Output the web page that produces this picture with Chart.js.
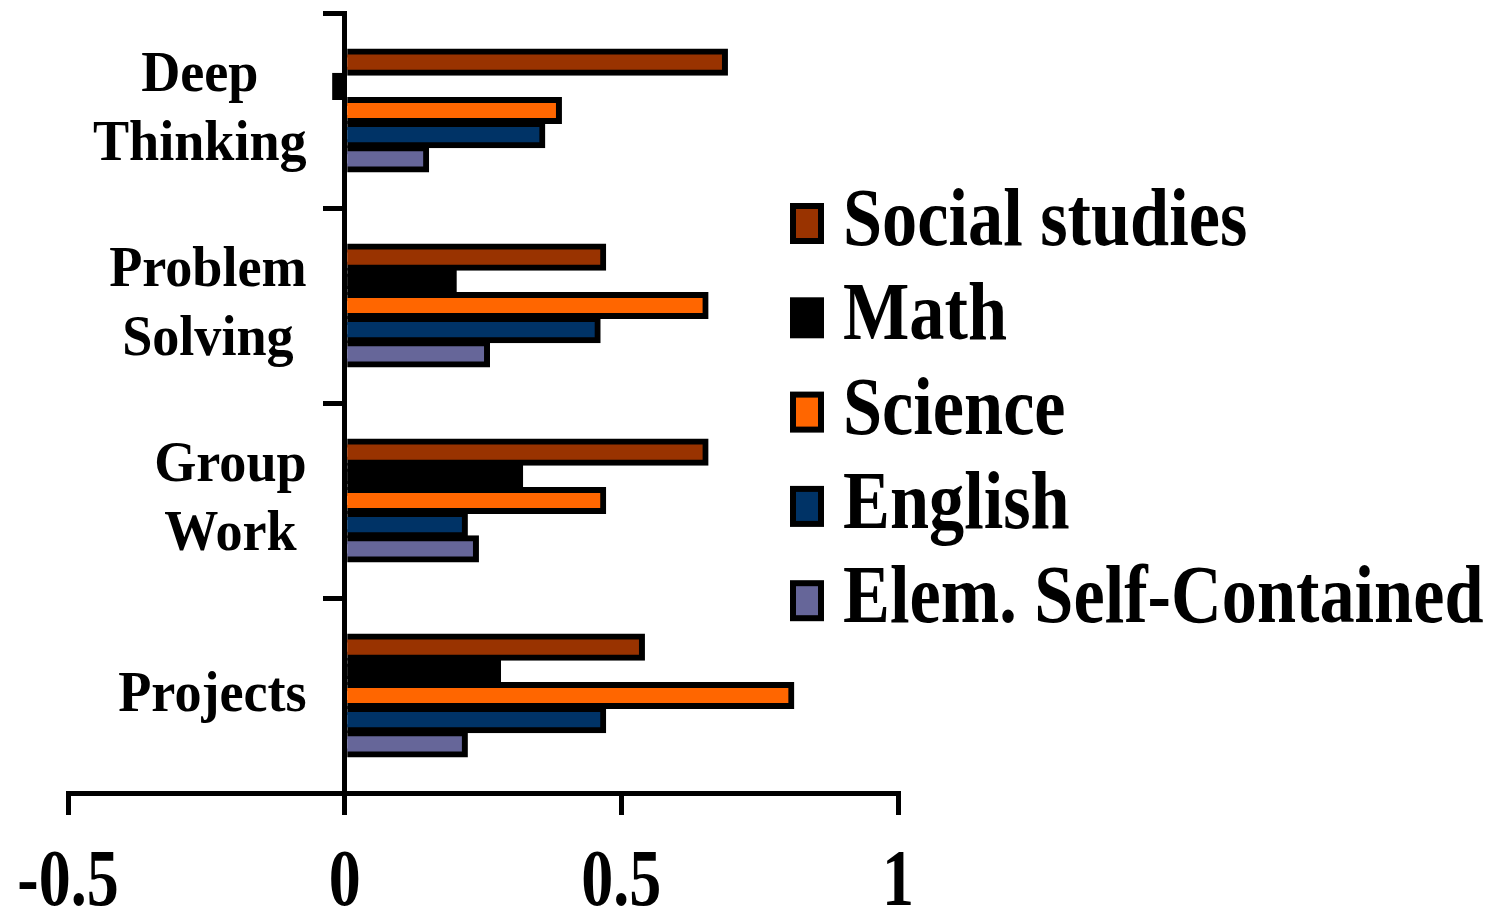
<!DOCTYPE html>
<html>
<head>
<meta charset="utf-8">
<title>Teaching practices by subject</title>
<script src="https://cdn.jsdelivr.net/npm/chart.js@4/dist/chart.umd.min.js"></script>
<style>
  html, body { margin: 0; padding: 0; background: #fff; }
  #wrap { width: 1493px; height: 910px; }
</style>
</head>
<body>
<div id="wrap"><canvas id="chart" width="1493" height="910"></canvas></div>
<script>
// Practice categories (multi-line labels) and x-axis ticks
const categories = [['Deep', 'Thinking'], ['Problem', 'Solving'], ['Group', 'Work'], ['Projects']];
const xTickValues = [-0.5, 0, 0.5, 1];

// Series names and colours
const seriesNames = ['Social studies', 'Math', 'Science', 'English', 'Elem. Self-Contained'];
const seriesColors = ['#993300', '#000000', '#FF6600', '#003366', '#666699'];

// Values per series, in category order
const socialStudies = [0.69, 0.47, 0.655, 0.54];
const math          = [-0.02, 0.20, 0.32, 0.28];
const science       = [0.39, 0.655, 0.47, 0.81];
const english       = [0.36, 0.46, 0.22, 0.47];
const elemSelf      = [0.15, 0.26, 0.24, 0.22];

const seriesValues = [socialStudies, math, science, english, elemSelf];

const FONT = '"Liberation Serif", "Times New Roman", serif';

// Draws bold (optionally condensed) text
function condensedText(ctx, text, x, y, size, sx, align) {
  ctx.save();
  ctx.font = 'bold ' + size + 'px ' + FONT;
  ctx.textAlign = align;
  ctx.textBaseline = 'alphabetic';
  ctx.translate(x, y);
  ctx.scale(sx, 1);
  ctx.fillText(text, 0, 0);
  ctx.restore();
}

const textPlugin = {
  id: 'slideText',
  afterDraw(chart) {
    const ctx = chart.ctx;
    const xs = chart.scales.x;
    const ys = chart.scales.y;
    ctx.save();
    ctx.fillStyle = '#000';

    // Category labels: lines centred within a block right-aligned left of the zero axis
    const catSize = 57, catSx = 0.95;
    ctx.font = 'bold ' + catSize + 'px ' + FONT;
    const capH = 38, lineH = 69;
    const axisX = xs.getPixelForValue(0);
    chart.data.labels.forEach((lines, i) => {
      const arr = Array.isArray(lines) ? lines : [lines];
      const blockW = Math.max(...arr.map(l => ctx.measureText(l).width)) * catSx;
      const cx = axisX - 38 - blockW / 2;
      const cy = ys.getPixelForValue(i) - 4;
      const top = cy - (capH + lineH * (arr.length - 1)) / 2;
      arr.forEach((l, k) => condensedText(ctx, l, cx, top + capH + lineH * k, catSize, catSx, 'center'));
    });

    // X tick labels
    xs.ticks.forEach(t => {
      const px = xs.getPixelForValue(t.value);
      condensedText(ctx, String(t.value), px, xs.top + 112, 80, 0.8, 'center');
    });

    // Legend
    chart.data.datasets.forEach((ds, i) => {
      const base = 245 + 94.3 * i;
      ctx.fillStyle = '#000';
      ctx.fillRect(790, base - 42, 34, 41);
      ctx.fillStyle = ds.backgroundColor;
      ctx.fillRect(796, base - 36, 22, 29);
      ctx.fillStyle = '#000';
      condensedText(ctx, ds.label, 843, base, 83, 0.847, 'left');
    });
    ctx.restore();
  }
};

new Chart(document.getElementById('chart'), {
  type: 'bar',
  data: {
    labels: categories,
    datasets: seriesNames.map((name, i) => ({
      label: name,
      data: seriesValues[i],
      backgroundColor: seriesColors[i],
      borderColor: '#000',
      borderWidth: 6,
      inflateAmount: 1.5,
      categoryPercentage: 0.62,
      barPercentage: 1.0
    }))
  },
  options: {
    indexAxis: 'y',
    responsive: false,
    animation: false,
    devicePixelRatio: 1,
    layout: { padding: { left: 68, right: 595, top: 13, bottom: 95 } },
    plugins: { legend: { display: false }, tooltip: { enabled: false } },
    scales: {
      x: {
        type: 'linear',
        min: -0.5,
        max: 1,
        afterBuildTicks(scale) { scale.ticks = xTickValues.map(v => ({ value: v })); },
        ticks: { display: false },
        grid: { display: true, drawOnChartArea: false, drawTicks: true, tickLength: 22, color: '#000', lineWidth: 5 },
        border: { display: true, color: '#000', width: 5 }
      },
      y: {
        type: 'category',
        position: { x: 0 },
        ticks: { display: false },
        grid: { display: true, offset: true, drawOnChartArea: false, drawTicks: true, tickLength: 19, color: '#000', lineWidth: 5 },
        border: { display: true, color: '#000', width: 5 }
      }
    }
  },
  plugins: [textPlugin]
});
</script>
</body>
</html>
